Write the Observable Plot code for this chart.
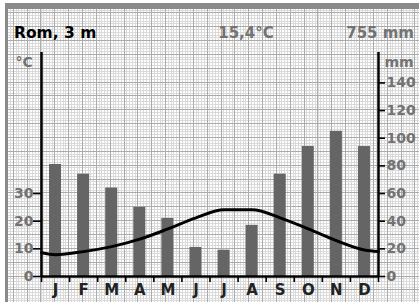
<!DOCTYPE html>
<html>
<head>
<meta charset="utf-8">
<script src="https://cdn.jsdelivr.net/npm/d3@7"></script>
<script src="https://cdn.jsdelivr.net/npm/@observablehq/plot@0.6"></script>
<style>
  html, body { margin: 0; padding: 0; background: white; }
  #wrap { position: relative; width: 419px; height: 302px; overflow: hidden; background: white; }
  #frame { position: absolute; left: 5px; top: 3px; right: 0; bottom: 0; background: #8a8a8a; }
  #grid {
    position: absolute; left: 8px; top: 9px; right: 0; bottom: 0; background-color: white;
    background-image:
      repeating-linear-gradient(to bottom, #ababab 3.35px, #ababab 4.35px, transparent 4.35px, transparent 17.2px),
      repeating-linear-gradient(to right, #ababab 4.8px, #ababab 5.8px, transparent 5.8px, transparent 18.65px),
      repeating-linear-gradient(to bottom, #dadada 0.58px, #dadada 1.58px, transparent 1.58px, transparent 3.35px),
      repeating-linear-gradient(to right, #dadada 2.03px, #dadada 3.03px, transparent 3.03px, transparent 4.8px);
  }
  #chart { position: absolute; left: 0; top: 0; }
</style>
</head>
<body>
<div id="wrap"><div id="frame"></div><div id="grid"></div><div id="chart"></div></div>
<script>
const months = ["J", "F", "M", "A", "M", "J", "J", "A", "S", "O", "N", "D"];
const precip = [81, 74, 64, 50, 42, 21, 19, 37, 74, 94, 105, 94];          // mm
const temp = [7.9, 9.0, 10.8, 13.5, 17.2, 21.2, 24.1, 24.1, 21.2, 17.2, 13.0, 9.6]; // °C
const tempAtLeftAxis = 8.6;
const tempAtRightAxis = 9.0;
const tempTicks = [0, 10, 20, 30];
const precipTicks = [0, 20, 40, 60, 80, 100, 120, 140];
const station = "Rom, 3 m";
const meanTemp = "15,4°C";
const totalPrecip = "755 mm";

const barHalf = 0.214;
const tempPts = [{x: 0, t: tempAtLeftAxis}]
  .concat(temp.map((t, i) => ({x: i + 0.5, t})))
  .concat([{x: 12, t: tempAtRightAxis}]);

const gray = "#737373";

const chart = Plot.plot({
  width: 419,
  height: 302,
  marginLeft: 41,
  marginRight: 41,
  marginTop: 52,
  marginBottom: 26,
  style: "background: transparent; font: bold 14px 'DejaVu Sans', sans-serif;",
  x: {domain: [0, 12], axis: null},
  y: {domain: [0, 162], axis: null},
  marks: [
    Plot.rectY(precip, {x1: (d, i) => i + 0.5 - barHalf, x2: (d, i) => i + 0.5 + barHalf, y: d => d, fill: "#656565"}),
    Plot.line(tempPts, {x: "x", y: d => d.t * 2, stroke: "black", strokeWidth: 3, curve: "monotone-x"}),
    Plot.axisY({anchor: "left", ticks: tempTicks.map(t => t * 2), tickFormat: d => String(d / 2), tickSize: 8, tickPadding: 0, stroke: "black", strokeWidth: 1.6, fill: gray, label: null, fontSize: 14}),
    Plot.axisY({anchor: "right", ticks: precipTicks, tickSize: 6, tickPadding: 2, stroke: "black", strokeWidth: 1.6, fill: gray, label: null, fontSize: 14}),
    Plot.axisX({anchor: "bottom", ticks: d3.range(13), tickFormat: () => "", tickSize: 6, stroke: "black", strokeWidth: 1.6, label: null}),
    Plot.ruleX([0, 12], {y1: 0, y2: 162, stroke: "black", strokeWidth: 2.5}),
    Plot.ruleY([0], {stroke: "black", strokeWidth: 2.5}),
    Plot.text(months, {x: (d, i) => i + 0.5, frameAnchor: "bottom", lineAnchor: "middle", dy: 14, fill: "#222", fontSize: 15, fontWeight: "bold"}),
    Plot.text([station], {frameAnchor: "top-left", textAnchor: "start", lineAnchor: "middle", dx: -27.5, dy: -19.8, fill: "black", fontSize: 15.5, fontWeight: "bold"}),
    Plot.text([meanTemp], {frameAnchor: "top", textAnchor: "middle", lineAnchor: "middle", dx: 36, dy: -19.8, fill: gray, fontSize: 15, fontWeight: "bold"}),
    Plot.text([totalPrecip], {frameAnchor: "top-right", textAnchor: "end", lineAnchor: "middle", dx: 35.5, dy: -19.8, fill: gray, fontSize: 15, fontWeight: "bold"}),
    Plot.text(["°C"], {frameAnchor: "top-left", textAnchor: "start", lineAnchor: "middle", dx: -26, dy: 10, fill: gray, fontSize: 14, fontWeight: "bold"}),
    Plot.text(["mm"], {frameAnchor: "top-right", textAnchor: "start", lineAnchor: "middle", dx: 6, dy: 10, fill: gray, fontSize: 14, fontWeight: "bold"})
  ]
});
document.getElementById("chart").appendChild(chart);
</script>
</body>
</html>
